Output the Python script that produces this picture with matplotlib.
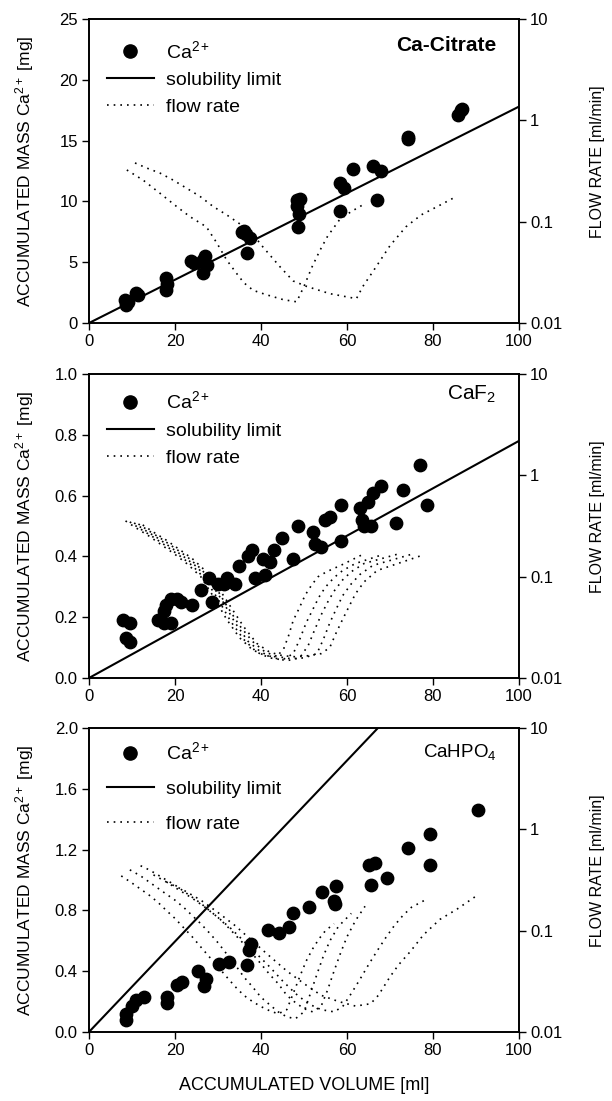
import matplotlib
matplotlib.use("Agg")

import matplotlib.pyplot as plt
from matplotlib.ticker import FixedLocator, NullLocator
from matplotlib.lines import Line2D

plt.rcParams["font.family"] = ["Liberation Sans", "DejaVu Sans"]
plt.rcParams["mathtext.fontset"] = "custom"
plt.rcParams["mathtext.rm"] = "Liberation Sans"
plt.rcParams["mathtext.it"] = "Liberation Sans:italic"
plt.rcParams["mathtext.bf"] = "Liberation Sans:bold"

# ---------------- Ca-Citrate ----------------
cit_vol = [8.3, 8.5, 9.0, 11.0, 11.5, 17.9, 17.9, 18.2, 23.8, 24.5, 26.5, 26.5, 27.4, 27.0,
           35.5, 36.5, 37.5, 36.7, 36.0, 48.3, 48.3, 48.8, 48.5, 49.0, 58.3, 59.2, 58.3,
           61.4, 66.0, 67.8, 66.9, 74.1, 74.3, 85.9, 86.5, 86.8]
cit_mass = [1.9, 1.5, 1.7, 2.5, 2.3, 3.7, 2.7, 3.2, 5.1, 4.9, 5.2, 4.1, 4.8, 5.5,
            7.5, 7.3, 7.0, 5.8, 7.6, 9.6, 10.1, 9.0, 7.9, 10.2, 11.5, 11.1, 9.2,
            12.7, 12.9, 12.5, 10.1, 15.1, 15.3, 17.1, 17.5, 17.6]
cit_limit_vol = [0, 100]
cit_limit_mass = [0, 17.8]
cit_flow_vol = [
    [8.8, 12.6, 16.5, 20.4, 23.5, 27.3, 29.7, 32, 34.3, 36, 38.2, 41.3, 45.2, 48.3,
     50, 51.9, 53.7, 55.5, 58.3, 61, 64.2],
    [10.7, 13.4, 16.5, 19.6, 22.7, 25.8, 28.9, 32, 35.1, 38, 40.5, 44.4, 47.5, 50.6,
     56, 62.2, 63.7, 66.4, 70, 73.7, 77.3, 81, 85.5],
]
cit_flow_rate = [
    [0.324, 0.257, 0.191, 0.141, 0.112, 0.089, 0.062, 0.042, 0.031, 0.025, 0.021, 0.019,
     0.017, 0.0162, 0.023, 0.036, 0.052, 0.072, 0.105, 0.126, 0.151],
    [0.380, 0.339, 0.302, 0.257, 0.214, 0.178, 0.141, 0.117, 0.095, 0.076, 0.056, 0.036,
     0.026, 0.023, 0.0195, 0.0174, 0.023, 0.034, 0.058, 0.089, 0.117, 0.141, 0.178],
]

# ---------------- CaF2 ----------------
caf_vol = [8, 9.5, 8.5, 9.5, 16, 17.5, 19, 18, 19, 20.5, 21.5, 17.5, 24, 26, 28, 28.5,
           30, 32, 34, 31.5, 35, 37, 38, 38.5, 40.5, 41, 42, 43, 45, 47.5, 48.5, 52, 52.5,
           54, 55, 56, 58.5, 58.5, 63, 63.5, 64, 65, 66, 68, 71.5, 73, 77, 78.5, 65.5]
caf_mass = [0.19, 0.18, 0.13, 0.12, 0.19, 0.18, 0.18, 0.24, 0.26, 0.26, 0.25, 0.22, 0.24,
            0.29, 0.33, 0.25, 0.31, 0.33, 0.31, 0.31, 0.37, 0.40, 0.42, 0.33, 0.39, 0.34,
            0.38, 0.42, 0.46, 0.39, 0.50, 0.48, 0.44, 0.43, 0.52, 0.53, 0.57, 0.45, 0.56,
            0.52, 0.50, 0.58, 0.61, 0.63, 0.51, 0.62, 0.70, 0.57, 0.50]
caf_limit_vol = [0, 100]
caf_limit_mass = [0, 0.78]
caf_flow_vol = [
    [8.5, 11, 14, 17, 20, 23, 26, 29, 32, 35, 38, 41, 43.5, 45.2, 46.4, 47.5, 48.7, 50.3,
     51.8, 53.3, 55.3, 59, 63.7],
    [9.5, 12, 15, 18, 21, 24, 27, 30, 33, 36, 39, 42, 45, 47.5, 49, 50.5, 52, 53.5, 55,
     57, 59, 62, 67.7],
    [10.5, 13, 16, 19, 22, 25, 28, 31, 34, 37, 40, 43, 46, 49, 51, 52.5, 54, 55.5, 57,
     59, 61, 64, 71.6],
    [11.5, 14, 17, 20, 23, 26, 29, 32, 35, 38, 41, 44, 47, 50, 53, 54.5, 56, 57.5, 59,
     61, 63, 66, 75.8],
    [12.5, 15, 18, 21, 24, 27, 30, 33, 36, 39, 42, 45, 48, 51, 54, 56, 57.5, 59, 60.5,
     62, 64, 67, 77.4],
]
caf_flow_rate = [
    [0.355, 0.302, 0.251, 0.204, 0.166, 0.132, 0.100, 0.063, 0.038, 0.025, 0.019, 0.0166,
     0.0162, 0.019, 0.026, 0.037, 0.047, 0.066, 0.083, 0.100, 0.112, 0.132, 0.166],
    [0.347, 0.295, 0.245, 0.200, 0.162, 0.129, 0.095, 0.060, 0.036, 0.024, 0.018, 0.0158,
     0.0151, 0.0174, 0.024, 0.035, 0.047, 0.063, 0.079, 0.098, 0.115, 0.135, 0.162],
    [0.339, 0.288, 0.240, 0.195, 0.158, 0.126, 0.091, 0.058, 0.035, 0.023, 0.018, 0.0158,
     0.0148, 0.0158, 0.021, 0.030, 0.042, 0.056, 0.072, 0.093, 0.112, 0.135, 0.166],
    [0.331, 0.282, 0.234, 0.191, 0.155, 0.120, 0.085, 0.052, 0.033, 0.023, 0.018, 0.0162,
     0.0155, 0.0158, 0.0174, 0.024, 0.035, 0.048, 0.065, 0.085, 0.105, 0.129, 0.170],
    [0.324, 0.275, 0.229, 0.186, 0.151, 0.115, 0.079, 0.050, 0.032, 0.022, 0.018, 0.0166,
     0.0162, 0.0166, 0.0174, 0.020, 0.028, 0.038, 0.051, 0.068, 0.089, 0.115, 0.162],
]

# ---------------- CaHPO4 ----------------
hpo_vol = [8.6, 8.6, 10.0, 10.9, 12.7, 18.1, 18.1, 20.4, 21.7, 25.3, 26.7, 27.1, 30.3,
           32.6, 36.7, 37.1, 37.6, 41.6, 44.3, 46.6, 47.5, 51.1, 54.3, 57.0, 57.5, 57.3,
           65.2, 66.5, 65.6, 69.2, 74.2, 79.2, 79.2, 90.5]
hpo_mass = [0.12, 0.08, 0.17, 0.21, 0.23, 0.23, 0.19, 0.31, 0.33, 0.40, 0.30, 0.35, 0.45,
            0.46, 0.44, 0.54, 0.58, 0.67, 0.65, 0.69, 0.78, 0.82, 0.92, 0.86, 0.96, 0.84,
            1.10, 1.11, 0.97, 1.01, 1.21, 1.30, 1.10, 1.46]
hpo_limit_vol = [0, 67.2]
hpo_limit_mass = [0, 2.0]
hpo_flow_vol = [
    [7.5, 10, 12, 14, 16, 18, 20, 22, 24, 26, 28, 30, 32, 34, 36, 38, 40, 42, 44, 46,
     47.5, 49, 50.5, 52, 53.5, 55, 57],
    [9.5, 12, 14, 16, 18, 20, 22, 24, 26, 28, 30, 32, 34, 36, 38, 40, 42, 44, 46, 48,
     50, 51.5, 53, 54.5, 56, 58, 61],
    [12, 14, 16, 18, 20, 22, 24, 26, 28, 30, 32, 34, 36, 38, 40, 42, 44, 46, 48, 50,
     52, 54, 55.5, 57, 58.5, 60, 62, 64.2],
    [15, 18, 21, 24, 27, 30, 33, 36, 39, 42, 45, 48, 51, 54, 57, 59, 61, 63, 65, 67,
     69, 71, 73, 75, 78.5],
    [18, 22, 26, 30, 34, 38, 42, 46, 50, 54, 58, 62, 65.5, 67.3, 70, 72, 74.7, 77.8,
     81.6, 85.5, 90],
]
hpo_flow_rate = [
    [0.347, 0.295, 0.257, 0.224, 0.191, 0.158, 0.132, 0.107, 0.087, 0.069, 0.055, 0.044,
     0.035, 0.028, 0.023, 0.020, 0.0178, 0.0162, 0.0151, 0.0166, 0.024, 0.035, 0.050,
     0.066, 0.083, 0.100, 0.117],
    [0.398, 0.347, 0.302, 0.263, 0.229, 0.200, 0.170, 0.141, 0.117, 0.095, 0.076, 0.059,
     0.046, 0.035, 0.028, 0.022, 0.0186, 0.0158, 0.0141, 0.0135, 0.0158, 0.024, 0.037,
     0.056, 0.079, 0.110, 0.148],
    [0.437, 0.398, 0.355, 0.316, 0.282, 0.245, 0.214, 0.186, 0.158, 0.135, 0.112, 0.091,
     0.074, 0.059, 0.047, 0.037, 0.030, 0.023, 0.0195, 0.017, 0.0158, 0.018, 0.026,
     0.040, 0.060, 0.087, 0.126, 0.174],
    [0.355, 0.302, 0.251, 0.209, 0.170, 0.135, 0.105, 0.079, 0.059, 0.044, 0.032, 0.024,
     0.019, 0.0166, 0.0158, 0.0178, 0.024, 0.033, 0.046, 0.063, 0.085, 0.112, 0.141,
     0.170, 0.204],
    [0.302, 0.251, 0.200, 0.151, 0.112, 0.079, 0.056, 0.040, 0.030, 0.023, 0.020, 0.018,
     0.019, 0.023, 0.035, 0.046, 0.062, 0.091, 0.129, 0.162, 0.219],
]

flow_ticks = [0.01, 0.1, 1, 10]
flow_labels = ["0.01", "0.1", "1", "10"]

panels = [
    dict(vol=cit_vol, mass=cit_mass, lim_x=cit_limit_vol, lim_y=cit_limit_mass,
         fx=cit_flow_vol, fy=cit_flow_rate, ymax=25,
         yticks=[0, 5, 10, 15, 20, 25], ylabels=["0", "5", "10", "15", "20", "25"],
         name="Ca-Citrate", weight="bold", nsize=15, ny=0.912,
         bottom=0.7066, legy=0.975, lspace=0.47),
    dict(vol=caf_vol, mass=caf_mass, lim_x=caf_limit_vol, lim_y=caf_limit_mass,
         fx=caf_flow_vol, fy=caf_flow_rate, ymax=1.0,
         yticks=[0, 0.2, 0.4, 0.6, 0.8, 1.0],
         ylabels=["0.0", "0.2", "0.4", "0.6", "0.8", "1.0"],
         name="CaF$_2$", weight="normal", nsize=15, ny=0.934,
         bottom=0.3842, legy=0.99, lspace=0.5),
    dict(vol=hpo_vol, mass=hpo_mass, lim_x=hpo_limit_vol, lim_y=hpo_limit_mass,
         fx=hpo_flow_vol, fy=hpo_flow_rate, ymax=2.0,
         yticks=[0, 0.4, 0.8, 1.2, 1.6, 2.0],
         ylabels=["0.0", "0.4", "0.8", "1.2", "1.6", "2.0"],
         name="CaHPO$_4$", weight="normal", nsize=13.5, ny=0.92,
         bottom=0.0627, legy=1.0, lspace=0.88),
]

fig = plt.figure(figsize=(6.12, 11.01), dpi=100)

for p in panels:
    ax = fig.add_axes([0.1454, p["bottom"], 0.7026, 0.2761])
    ax2 = ax.twinx()

    # flow rate on the log axis
    for fx, fy in zip(p["fx"], p["fy"]):
        ax2.plot(fx, fy, color="black", lw=1.2, ls=(0, (1, 3)))
    ax2.set_yscale("log")
    ax2.set_ylim(0.01, 10)
    ax2.yaxis.set_major_locator(FixedLocator(flow_ticks))
    ax2.yaxis.set_minor_locator(NullLocator())
    ax2.set_yticklabels(flow_labels)
    ax2.set_ylabel("FLOW RATE [ml/min]", fontsize=11.5)
    ax2.yaxis.set_label_coords(1.165, 0.53)

    # mass and solubility limit
    ax.plot(p["lim_x"], p["lim_y"], color="black", lw=1.5, zorder=2)
    ax.scatter(p["vol"], p["mass"], s=80, color="black", zorder=3)
    ax.set_xlim(0, 100)
    ax.set_ylim(0, p["ymax"])
    ax.set_xticks([0, 20, 40, 60, 80, 100])
    ax.set_yticks(p["yticks"])
    ax.set_yticklabels(p["ylabels"])
    ax.set_ylabel("ACCUMULATED MASS Ca$^{2+}$ [mg]", fontsize=12.5)
    ax.yaxis.set_label_coords(-0.123, 0.5)
    ax.set_zorder(ax2.get_zorder() + 1)
    ax.patch.set_visible(False)

    for a in (ax, ax2):
        a.tick_params(direction="out", length=5, width=1, labelsize=12, pad=3)
        for s in a.spines.values():
            s.set_linewidth(1.2)

    ax.text(0.947, p["ny"], p["name"], transform=ax.transAxes, ha="right",
            va="center", fontsize=p["nsize"], fontweight=p["weight"])

    handles = [
        Line2D([], [], ls="none", marker="o", ms=9.5, color="black"),
        Line2D([], [], color="black", lw=1.5),
        Line2D([], [], color="black", lw=1.2, ls=(0, (1, 3))),
    ]
    ax.legend(handles, ["Ca$^{2+}$", "solubility limit", "flow rate"],
              loc="upper left", bbox_to_anchor=(0.01, p["legy"]), frameon=False,
              fontsize=14, handlelength=2.4, handletextpad=0.62,
              labelspacing=p["lspace"], borderaxespad=0.3)

fig.text(0.497, 0.0145, "ACCUMULATED VOLUME [ml]", ha="center", va="center",
         fontsize=13)

fig.savefig("out.png", dpi=100)
